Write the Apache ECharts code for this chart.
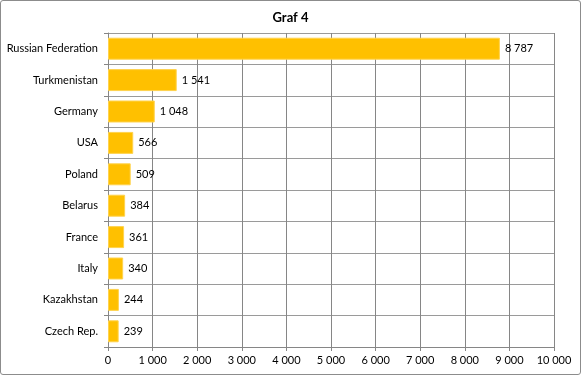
<!DOCTYPE html>
<html><head><meta charset="utf-8">
<script src="https://cdn.jsdelivr.net/npm/echarts@6/dist/echarts.min.js"></script>
<style>html,body{margin:0;padding:0;background:#fff}#c{width:581px;height:375px;box-sizing:border-box;border:1px solid #8c8c8c;border-radius:3px}</style>
</head><body><div id="c"></div>
<script>
const categories = ["Russian Federation","Turkmenistan","Germany","USA","Poland","Belarus","France","Italy","Kazakhstan","Czech Rep."];
const values = [8787,1541,1048,566,509,384,361,340,244,239];
const xTicks = [0,1000,2000,3000,4000,5000,6000,7000,8000,9000,10000];
const fmt = v => String(v).replace(/\B(?=(\d{3})+(?!\d))/g, ' ');
const chart = echarts.init(document.getElementById('c'));
const font = 'Lato';
chart.setOption({
  animation:false,
  title:{text:'Graf 4',left:'center',top:5,textStyle:{fontFamily:font,fontSize:13,fontWeight:'bold',color:'#000'}},
  grid:{left:107,right:26,top:32,bottom:27,containLabel:false,outerBoundsMode:'none'},
  xAxis:{type:'value',min:xTicks[0],max:xTicks[xTicks.length-1],interval:1000,
    axisLine:{show:true,lineStyle:{color:'#868686'}},
    axisTick:{show:true,length:4,lineStyle:{color:'#868686'}},
    splitLine:{show:true,lineStyle:{color:'#868686',width:1}},
    axisLabel:{fontFamily:font,fontSize:11,color:'#000',margin:8,formatter:v=>fmt(v)}},
  yAxis:{type:'category',data:categories,inverse:true,
    axisLine:{show:true,lineStyle:{color:'#868686'}},
    axisTick:{show:true,length:4,lineStyle:{color:'#868686'}},
    splitLine:{show:true,lineStyle:{color:'#9a9a9a',width:1}},
    axisLabel:{fontFamily:font,fontSize:11,color:'#000',margin:10}},
  series:[{type:'bar',data:values,barCategoryGap:'30%',
    itemStyle:{color:'#FFC000',borderColor:'#FFD34D',borderWidth:1},
    label:{show:true,position:'right',distance:5,fontFamily:font,fontSize:11,color:'#000',formatter:p=>fmt(p.value)}}]
});
</script></body></html>
